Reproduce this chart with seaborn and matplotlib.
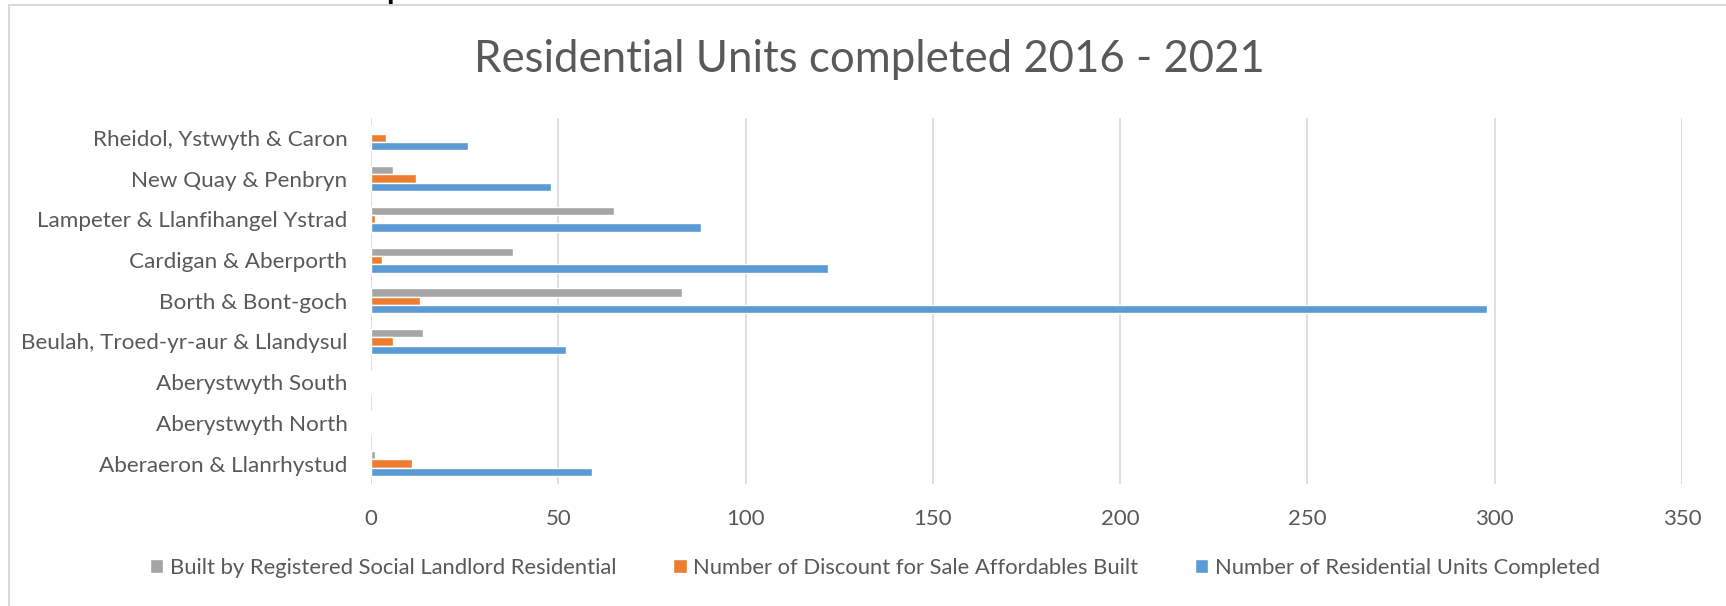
import matplotlib
matplotlib.use("Agg")
import matplotlib.pyplot as plt
import matplotlib.patches as mpatches
import numpy as np
import pandas as pd
import seaborn as sns

# wards, listed top to bottom as in the chart
areas = ["Rheidol, Ystwyth & Caron", "New Quay & Penbryn",
         "Lampeter & Llanfihangel Ystrad", "Cardigan & Aberporth",
         "Borth & Bont-goch", "Beulah, Troed-yr-aur & Llandysul",
         "Aberystwyth South", "Aberystwyth North", "Aberaeron & Llanrhystud"]
rsl_built = [0, 6, 65, 38, 83, 14, 0, 0, 1]
discount_sale = [4, 12, 1, 3, 13, 6, 0, 0, 11]
units_completed = [26, 48, 88, 122, 298, 52, 0, 0, 59]
series_names = ["Built by Registered Social Landlord Residential",
                "Number of Discount for Sale Affordables Built",
                "Number of Residential Units Completed"]
x_ticks = [0, 50, 100, 150, 200, 250, 300, 350]

txt_color = "#595959"
grid_color = "#D9D9D9"
palette = {series_names[0]: "#A5A5A5",
           series_names[1]: "#ED7D31",
           series_names[2]: "#5B9BD5"}

# long form table for seaborn
df = pd.DataFrame({
    "area": areas * 3,
    "value": rsl_built + discount_sale + units_completed,
    "series": [s for s in series_names for _ in areas],
})

sns.set_style("white")
plt.rcParams["font.family"] = ["Lato", "DejaVu Sans"]

W, H = 1726, 606
fig = plt.figure(figsize=(W / 100, H / 100), dpi=100)
fig.set_facecolor("w")
ax = fig.add_axes([371 / W, 1 - 484 / H, (1682 - 371) / W, (484 - 117.5) / H])

sns.barplot(data=df, y="area", x="value", hue="series", hue_order=series_names,
            palette=palette, orient="h", width=0.614, errorbar=None,
            saturation=1, ax=ax, zorder=3)

ax.set_xlim(0, 350)
ax.set_xticks(x_ticks)
ax.set_xticklabels([str(t) for t in x_ticks])
ax.grid(axis="x", color=grid_color, linewidth=1.2, zorder=0)
ax.set_axisbelow(True)
for s in ax.spines.values():
    s.set_visible(False)
ax.set_xlabel("")
ax.set_ylabel("")
ax.tick_params(axis="x", length=0, pad=18, labelsize=16, labelcolor=txt_color)
ax.tick_params(axis="y", length=0, pad=17, labelsize=16.2, labelcolor=txt_color)

# legend below the chart
sns.move_legend(ax, "center", bbox_to_anchor=(0.507, 1 - 568 / H),
                bbox_transform=fig.transFigure, ncol=3, frameon=False,
                title=None, fontsize=15.8, handlelength=0.6, handleheight=0.6,
                handletextpad=0.3, columnspacing=2.6, labelcolor=txt_color)

fig.text(869.6 / W, 1 - 59 / H, "Residential Units completed 2016 - 2021",
         ha="center", va="center", fontsize=31.5, color=txt_color)

# chart frame and clipped heading from page above
fig.patches.append(mpatches.Rectangle((9 / W, -0.1), 1.2, 1.1 - 5 / H,
                                      transform=fig.transFigure, fill=False,
                                      edgecolor=grid_color, linewidth=1.5))
fig.text(386 / W, 1 + 1 / H, "p", ha="left", va="baseline", fontsize=22,
         fontweight="bold", color="black")

plt.savefig("out.png", dpi=100)
